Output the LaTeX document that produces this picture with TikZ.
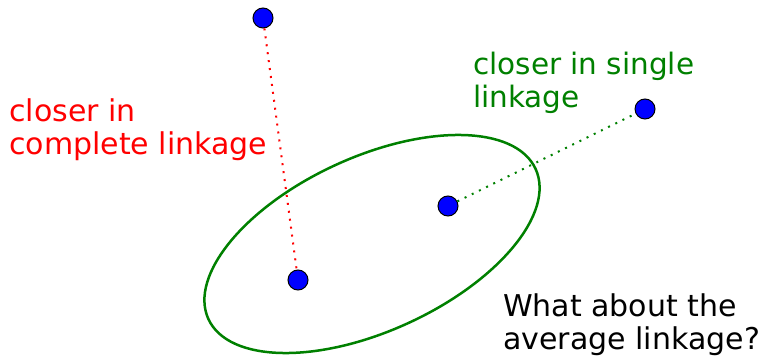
\documentclass[tikz,border=0pt]{standalone}
\usepackage{fontspec}
\setmainfont{DejaVu Sans}
\definecolor{dgreen}{RGB}{0,128,0}
\definecolor{lred}{RGB}{255,0,0}
\begin{document}
\begin{tikzpicture}[x=1pt,y=-1pt,
  dot/.style={circle,fill={rgb,255:red,0;green,0;blue,255},draw=black,line width=1pt,minimum size=20pt,inner sep=0pt},
  reddots/.style={draw=lred,line width=2pt,dash pattern=on 2pt off 6pt},
  greendots/.style={draw=dgreen,line width=2pt,dash pattern=on 2pt off 6pt},
  lbl/.style={anchor=base west,inner sep=0pt,align=left}]
\useasboundingbox (0,0) rectangle (762,358);
\draw[dgreen,line width=2.5pt,rotate around={24.65:(372,244)}] (372,244) ellipse[x radius=180pt,y radius=87pt];
\node[dot] (top) at (263,18) {};
\node[dot] (right) at (645,109) {};
\node[dot] (mid) at (448,206) {};
\node[dot] (low) at (298,280) {};
\draw[reddots] (top) -- (low);
\draw[greendots] (mid) -- (right);
\node[lbl,text=lred,font=\fontsize{30}{33}\selectfont] (redtxt) at (9,155) {closer in\\complete linkage};
\node[lbl,text=dgreen,font=\fontsize{29.5}{33}\selectfont] (greentxt) at (473,108) {closer in single\\linkage};
\node[lbl,text=black,font=\fontsize{30}{33}\selectfont] (blacktxt) at (503,349) {What about the\\average linkage?};
\end{tikzpicture}
\end{document}
